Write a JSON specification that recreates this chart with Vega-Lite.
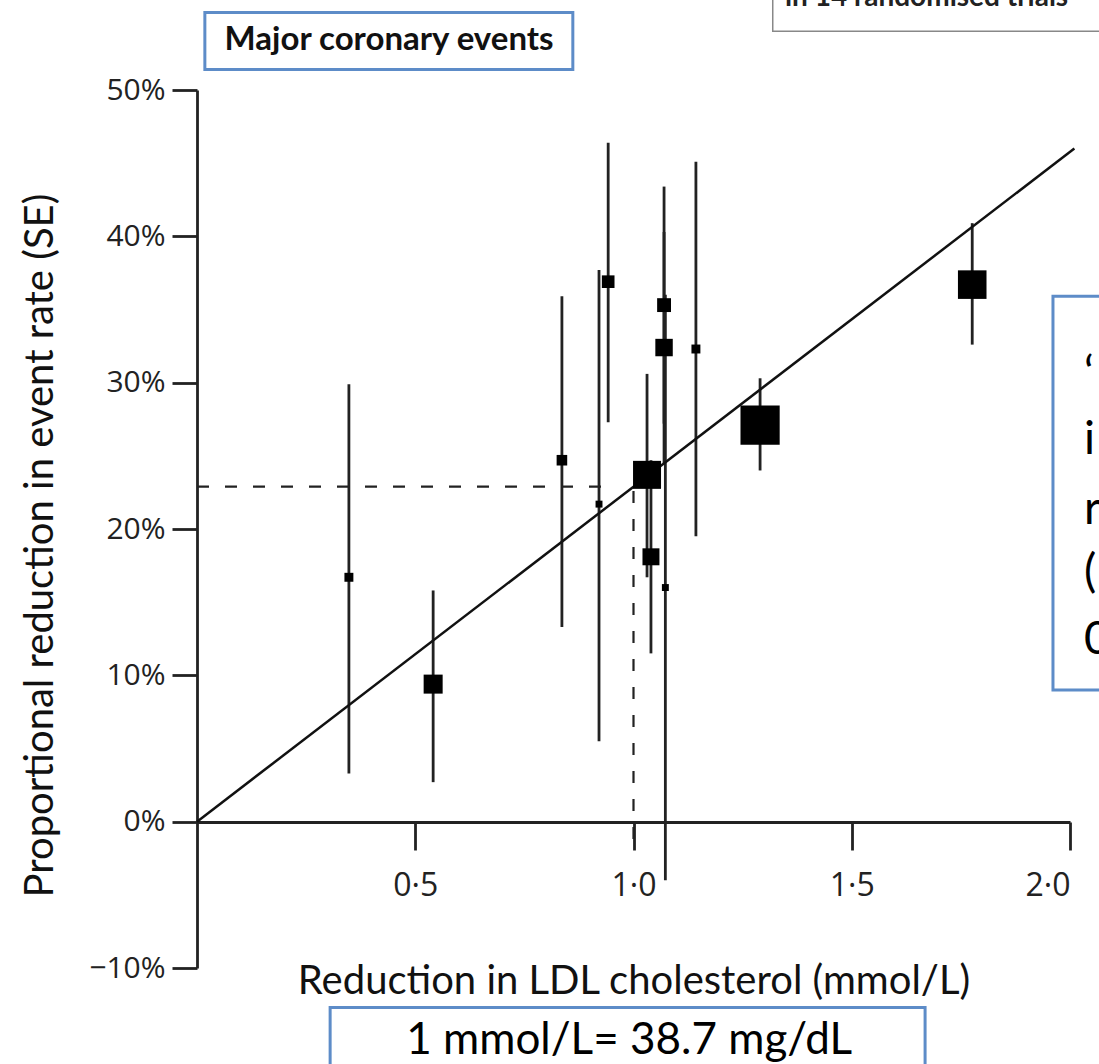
{
  "$schema": "https://vega.github.io/schema/vega-lite/v6.json",
  "autosize": {"type": "none"},
  "width": 873,
  "height": 878,
  "padding": {"left": 197, "top": 90, "right": 29, "bottom": 96},
  "background": "white",
  "config": {"view": {"stroke": null}, "axis": {"grid": false}},
  "data": {"values": [
    {"ldl": 0.348, "red": 16.7, "lo": 3.3, "hi": 29.9, "w": 5},
    {"ldl": 0.541, "red": 9.4, "lo": 2.7, "hi": 15.8, "w": 22.6},
    {"ldl": 0.836, "red": 24.7, "lo": 13.3, "hi": 35.9, "w": 7},
    {"ldl": 0.921, "red": 21.7, "lo": 5.5, "hi": 37.7, "w": 3},
    {"ldl": 0.942, "red": 36.9, "lo": 27.3, "hi": 46.4, "w": 10},
    {"ldl": 1.031, "red": 23.7, "lo": 16.7, "hi": 30.6, "w": 49},
    {"ldl": 1.040, "red": 18.1, "lo": 11.5, "hi": 24.7, "w": 18},
    {"ldl": 1.070, "red": 35.3, "lo": 27.2, "hi": 43.4, "w": 12},
    {"ldl": 1.070, "red": 32.4, "lo": 24.5, "hi": 40.3, "w": 19},
    {"ldl": 1.073, "red": 16.0, "lo": -4.0, "hi": 36.0, "w": 3},
    {"ldl": 1.143, "red": 32.3, "lo": 19.5, "hi": 45.1, "w": 5},
    {"ldl": 1.290, "red": 27.1, "lo": 24.0, "hi": 30.3, "w": 96},
    {"ldl": 1.776, "red": 36.7, "lo": 32.6, "hi": 40.9, "w": 51}
  ]},
  "layer": [
    {
      "mark": {"type": "rule", "strokeWidth": 2.8, "color": "#222"},
      "encoding": {
        "x": {"field": "ldl", "type": "quantitative",
          "scale": {"domain": [0, 2], "nice": false, "zero": false},
          "axis": {"values": [0.5, 1, 1.5, 2], "offset": -146, "tickSize": 28, "tickWidth": 2.8, "domainWidth": 2.8, "domainColor": "#222", "tickColor": "#222",
            "labelExpr": "replace(format(datum.value, '.1f'), '.', '·')", "labelFont": "Open Sans", "labelFontSize": 32, "labelColor": "#222", "labelPadding": 20,
            "title": "Reduction in LDL cholesterol (mmol/L)", "titleFont": "Lato", "titleFontSize": 40, "titleFontWeight": "normal", "titleColor": "#111", "titlePadding": 60}},
        "y": {"field": "lo", "type": "quantitative",
          "scale": {"domain": [-10, 50], "nice": false, "zero": false},
          "axis": {"values": [-10, 0, 10, 20, 30, 40, 50], "tickSize": 25, "tickWidth": 2.8, "domainWidth": 2.8, "domainColor": "#222", "tickColor": "#222",
            "labelExpr": "(datum.value < 0 ? '−' : '') + abs(datum.value) + '%'", "labelFont": "Open Sans", "labelFontSize": 30, "labelColor": "#222", "labelPadding": 7,
            "title": "Proportional reduction in event rate (SE)", "titleFont": "Lato", "titleFontSize": 40, "titleFontWeight": "normal", "titleColor": "#111", "titleX": -157, "titleY": 455, "titleAngle": -90, "titleBaseline": "middle", "titleAlign": "center"}},
        "y2": {"field": "hi"}
      }
    },
    {
      "data": {"values": [{}]},
      "mark": {"type": "rule", "strokeWidth": 2.5, "color": "#111", "clip": false},
      "encoding": {"x": {"datum": 0}, "y": {"datum": 0}, "x2": {"datum": 2.01}, "y2": {"datum": 46.0}}
    },
    {
      "data": {"values": [{}]},
      "mark": {"type": "rule", "strokeWidth": 2.2, "color": "#222", "strokeDash": [12, 16]},
      "encoding": {"x": {"datum": 0}, "x2": {"datum": 0.96}, "y": {"datum": 22.9}}
    },
    {
      "data": {"values": [{}]},
      "mark": {"type": "rule", "strokeWidth": 2.2, "color": "#222", "strokeDash": [12, 16]},
      "encoding": {"x": {"datum": 1.0}, "y": {"datum": 22.6}, "y2": {"datum": -1.5}}
    },
    {
      "mark": {"type": "square", "filled": true, "color": "#000", "opacity": 1},
      "encoding": {
        "x": {"field": "ldl", "type": "quantitative"},
        "y": {"field": "red", "type": "quantitative"},
        "size": {"field": "w", "type": "quantitative", "scale": {"domain": [0, 100], "range": [0, 1600]}, "legend": null}
      }
    },
    {
      "data": {"values": [{}]},
      "mark": {"type": "rect", "fillOpacity": 0, "stroke": "#5d8cc8", "strokeWidth": 3, "clip": false},
      "encoding": {"x": {"datum": 0.018}, "x2": {"datum": 0.861}, "y": {"datum": 55.3}, "y2": {"datum": 51.4}}
    },
    {
      "data": {"values": [{}]},
      "mark": {"type": "text", "text": "Major coronary events", "font": "Lato", "fontSize": 33, "fontWeight": "bold", "color": "#111", "align": "center", "baseline": "middle"},
      "encoding": {"x": {"datum": 0.44}, "y": {"datum": 53.4}}
    },
    {
      "data": {"values": [{}]},
      "mark": {"type": "rect", "fillOpacity": 0, "stroke": "#5d8cc8", "strokeWidth": 3, "clip": false},
      "encoding": {"x": {"datum": 0.305}, "x2": {"datum": 1.668}, "y": {"datum": -12.7}, "y2": {"datum": -17}}
    },
    {
      "data": {"values": [{}]},
      "mark": {"type": "rect", "fillOpacity": 0, "stroke": "#5d8cc8", "strokeWidth": 3, "clip": false},
      "encoding": {"x": {"datum": 1.961}, "x2": {"datum": 2.3}, "y": {"datum": 35.9}, "y2": {"datum": 9.0}}
    },
    {
      "data": {"values": [{}]},
      "mark": {"type": "rect", "fillOpacity": 0, "stroke": "#888", "strokeWidth": 1.5, "clip": false},
      "encoding": {"x": {"datum": 1.319}, "x2": {"datum": 2.3}, "y": {"datum": 60}, "y2": {"datum": 54.02}}
    },
    {
      "data": {"values": [{}]},
      "mark": {"type": "text", "text": "1 mmol/L= 38.7 mg/dL", "font": "Lato", "fontSize": 44, "color": "#000", "align": "center", "baseline": "alphabetic"},
      "encoding": {"x": {"datum": 0.99}, "y": {"datum": -15.9}}
    },
    {
      "data": {"values": [{}]},
      "mark": {"type": "text", "text": "in 14 randomised trials", "font": "Lato", "fontSize": 28, "fontWeight": "bold", "color": "#222", "align": "left", "baseline": "alphabetic"},
      "encoding": {"x": {"datum": 1.347}, "y": {"datum": 55.75}}
    },
    {
      "data": {"values": [
        {"line": "‘", "pos": 30.5},
        {"line": "i", "pos": 26.1},
        {"line": "r", "pos": 21.3},
        {"line": "(", "pos": 17.0},
        {"line": "0", "pos": 12.4}
      ]},
      "mark": {"type": "text", "font": "Lato", "fontSize": 46, "color": "#000", "align": "left", "baseline": "middle"},
      "encoding": {"x": {"datum": 2.032}, "y": {"field": "pos", "type": "quantitative"}, "text": {"field": "line"}}
    }
  ]
}
